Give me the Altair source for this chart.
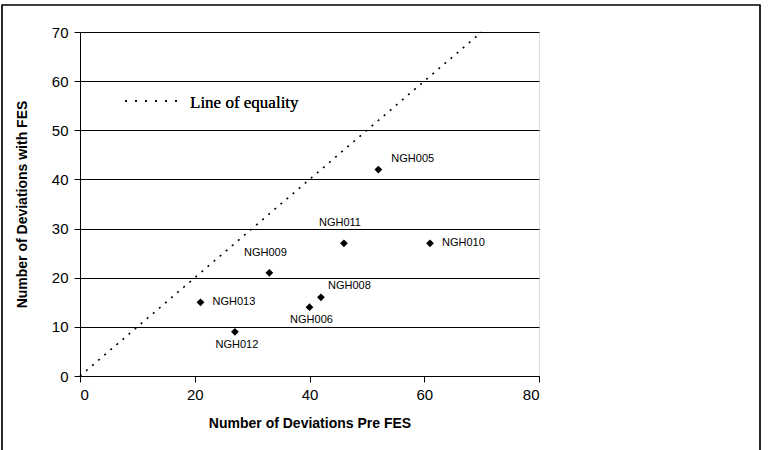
import altair as alt
import pandas as pd

names = ["NGH005", "NGH011", "NGH010", "NGH009", "NGH013", "NGH008", "NGH006", "NGH012"]
pre_fes = [52, 46, 61, 33, 21, 42, 40, 27]
with_fes = [42, 27, 27, 21, 15, 16, 14, 9]
equality_x = [0, 70]
equality_y = [0, 70]
x_ticks = [0, 20, 40, 60, 80]
y_ticks = [0, 10, 20, 30, 40, 50, 60, 70]

df = pd.DataFrame({"name": names, "pre": pre_fes, "post": with_fes})
eq = pd.DataFrame({"pre": equality_x, "post": equality_y})

FONT = "Liberation Sans"

xs = alt.Scale(domain=[0, 80], nice=False)
ys = alt.Scale(domain=[0, 70], nice=False)

xenc = alt.X("pre:Q", scale=xs, axis=alt.Axis(
    values=x_ticks, title="Number of Deviations Pre FES", grid=False,
    domain=True, domainColor="black", tickColor="black", tickSize=6,
    labelFont=FONT, labelFontSize=15, labelColor="black", labelPadding=5,
    titleFont=FONT, titleFontSize=14, titleFontWeight="bold", titleColor="black",
    titlePadding=14))
yenc = alt.Y("post:Q", scale=ys, axis=alt.Axis(
    values=y_ticks, title="Number of Deviations with FES", grid=True,
    gridColor="black", gridOpacity=1, gridWidth=1,
    domain=True, domainColor="black", tickColor="black", tickSize=6,
    labelFont=FONT, labelFontSize=15, labelColor="black", labelPadding=6,
    titleFont=FONT, titleFontSize=14, titleFontWeight="bold", titleColor="black",
    titlePadding=22))

line = alt.Chart(eq).mark_line(color="black", strokeDash=[2, 6], strokeWidth=1.6).encode(
    x=xenc, y=yenc)

pts = alt.Chart(df).mark_point(shape="diamond", filled=True, color="black", size=60, opacity=1).encode(
    x="pre:Q", y="post:Q")

def labels(sel, align, dx, dy):
    return alt.Chart(df).transform_filter(
        alt.FieldOneOfPredicate(field="name", oneOf=sel)
    ).mark_text(font=FONT, fontSize=11, color="black", align=align, dx=dx, dy=dy).encode(
        x="pre:Q", y="post:Q", text="name:N")

lab_right = labels(["NGH010", "NGH013"], "left", 12, 0)
lab_upright = labels(["NGH005"], "left", 13, -11)
lab_up8 = labels(["NGH008"], "left", 7, -11)
lab_above = labels(["NGH011", "NGH009"], "center", -4, -20)
lab_below = labels(["NGH006", "NGH012"], "center", 2, 13)

leg_line = alt.Chart(eq).mark_rule(color="black", strokeDash=[2, 8], strokeWidth=1.6).encode(
    x=alt.value(45), x2=alt.value(99), y=alt.value(69))
leg_text = alt.Chart(eq).mark_text(font="Liberation Serif", fontSize=17, color="black",
                                   align="left", baseline="middle").encode(
    x=alt.value(110), y=alt.value(71), text=alt.value("Line of equality"))

frame = alt.Chart(eq).mark_rect(fill=None, stroke="black", strokeWidth=1.2).encode(
    x=alt.value(-78), x2=alt.value(680), y=alt.value(-27), y2=alt.value(440))

chart = alt.layer(line, pts, lab_right, lab_upright, lab_up8, lab_above, lab_below,
                  leg_line, leg_text, frame).properties(
    width=459, height=344,
    autosize=alt.AutoSizeParams(type="none"),
    padding={"left": 80, "top": 32, "right": 230, "bottom": 74},
).configure_view(stroke="black", strokeWidth=1.2).configure(background="white")

chart.save("out.html", embed_options={"renderer": "svg", "actions": False})
